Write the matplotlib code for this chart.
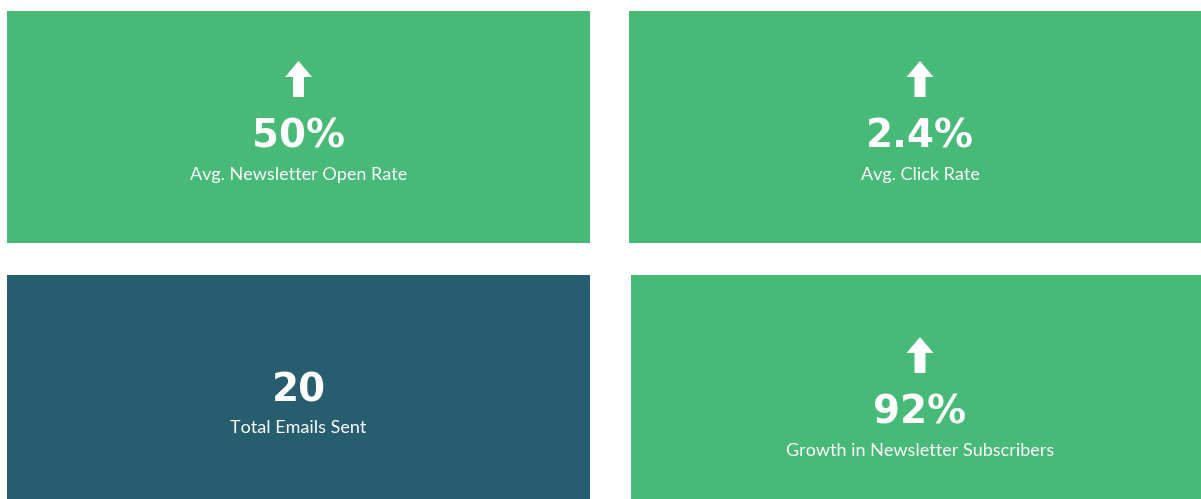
import matplotlib
matplotlib.use("Agg")
import matplotlib.pyplot as plt
from matplotlib.patches import Rectangle, Polygon

# KPI tiles
values = ["50%", "2.4%", "20", "92%"]
labels = ["Avg. Newsletter Open Rate", "Avg. Click Rate",
          "Total Emails Sent", "Growth in Newsletter Subscribers"]
trend_up = [True, True, False, True]
tile_colors = ["#48BA78", "#48BA78", "#265E6F", "#48BA78"]

# tile boxes in pixels: (x0, y0, x1, y1)
boxes = [(7, 11, 590, 243), (629, 11, 1201, 243),
         (7, 275, 590, 499), (631, 275, 1201, 499)]
# text centre of each tile
cen_x = [298.5, 920, 298.5, 920]
num_y = [133, 133, 386, 409]

fig = plt.figure(figsize=(12.01, 4.99), dpi=100)
ax = fig.add_axes([0, 0, 1, 1])
ax.set_xlim(0, 1201)
ax.set_ylim(499, 0)
ax.axis("off")

for i in range(len(values)):
    x0, y0, x1, y1 = boxes[i]
    ax.add_patch(Rectangle((x0, y0), x1 - x0, y1 - y0, color=tile_colors[i], lw=0))
    cx = cen_x[i]
    ny = num_y[i]
    ax.text(cx, ny, values[i], color="white", fontsize=28, fontweight="bold",
            family="DejaVu Sans", ha="center", va="center_baseline")
    ax.text(cx, ny + 40.5, labels[i], color="white", fontsize=13,
            family="Lato", ha="center", va="center_baseline")
    if trend_up[i]:
        top = ny - 72
        arrow = [(cx, top), (cx + 13.5, top + 16), (cx + 5.5, top + 16), (cx + 5.5, top + 36),
                 (cx - 5.5, top + 36), (cx - 5.5, top + 16), (cx - 13.5, top + 16)]
        ax.add_patch(Polygon(arrow, closed=True, color="white", lw=0))

fig.savefig("out.png", dpi=100)
